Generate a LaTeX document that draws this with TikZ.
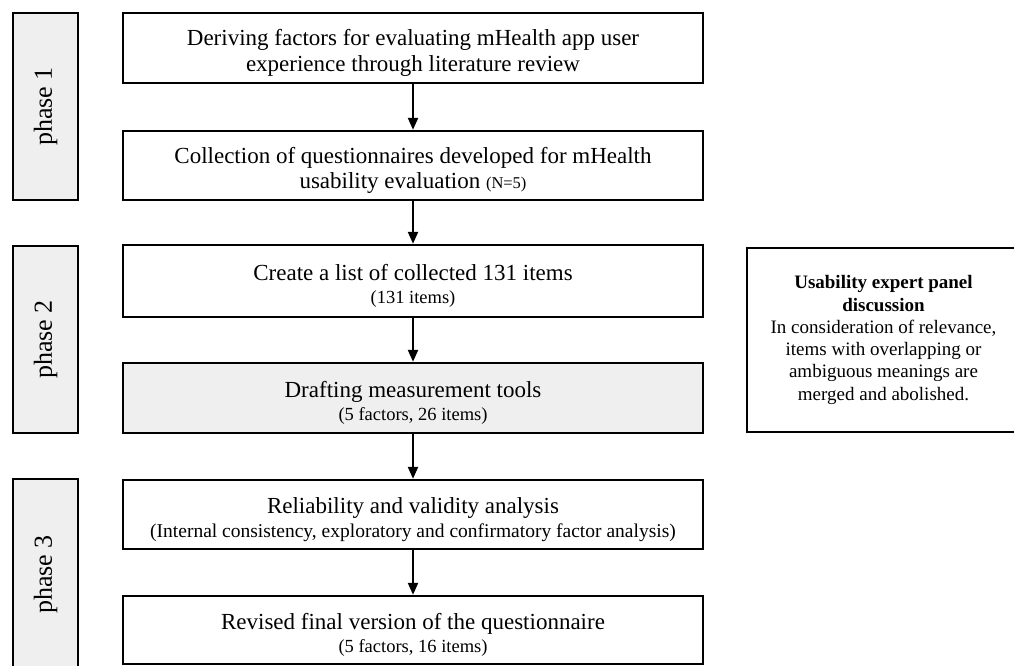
\documentclass[tikz,border=0pt]{standalone}
\usepackage{fontspec}
\setmainfont{Liberation Serif}
\usetikzlibrary{arrows.meta}
\definecolor{boxgray}{HTML}{EFEFEF}
\newcommand\subsz{\fontsize{18.5}{22}\selectfont}
\newcommand\topstrut{\rule{0pt}{26pt}}
\begin{document}
\begin{tikzpicture}[x=1pt,y=-1pt,
  stepbox/.style={draw=black,line width=2.4pt,minimum width=580pt,align=center,inner sep=0pt,font=\fontsize{23}{25.5}\selectfont},
  phasebox/.style={draw=black,line width=2.4pt,fill=boxgray,minimum width=187pt,minimum height=65pt,rotate=90,inner sep=0pt,font=\fontsize{26}{30}\selectfont},
  flow/.style={line width=2.2pt,-{Triangle[length=12pt,width=10pt]}}]
\useasboundingbox (0,0) rectangle (1014,666);
\fill[white] (0,0) rectangle (1014,666);
% phase boxes
\node[phasebox] (p1) at (45.5,106.5) {phase 1};
\node[phasebox] (p2) at (45.5,339.5) {phase 2};
\node[phasebox,minimum width=191pt] (p3) at (45.5,574.5) {phase 3};
% main steps
\node[stepbox,minimum height=70pt] (b1) at (413,48) {\topstrut Deriving factors for evaluating mHealth app user\\experience through literature review};
\node[stepbox,minimum height=69pt] (b2) at (413,165.5) {\topstrut Collection of questionnaires developed for mHealth\\usability evaluation {\fontsize{16.5}{20}\selectfont(N=5)}};
\node[stepbox,minimum height=72pt] (b3) at (413,281) {\topstrut Create a list of collected 131 items\\[-2pt]{\subsz (131 items)}};
\node[stepbox,minimum height=70pt,fill=boxgray] (b4) at (413,398) {\topstrut Drafting measurement tools\\[-2pt]{\subsz (5 factors, 26 items)}};
\node[stepbox,minimum height=69pt] (b5) at (413,514.5) {\topstrut Reliability and validity analysis\\[-2pt]{\fontsize{19.5}{22}\selectfont(Internal consistency, exploratory and confirmatory factor analysis)}};
\node[stepbox,minimum height=68pt] (b6) at (413,630) {\topstrut Revised final version of the questionnaire\\[-2pt]{\subsz (5 factors, 16 items)}};
% expert panel
\node[draw=black,line width=2.4pt,minimum width=273pt,minimum height=184pt,align=center,inner sep=0pt,font=\fontsize{19}{22.3}\selectfont] (ex) at (883.5,340) {\textbf{Usability expert panel}\\\textbf{discussion}\\In consideration of relevance,\\items with overlapping or\\ambiguous meanings are\\merged and abolished.};
% arrows
\draw[flow] (b1) -- (b2);
\draw[flow] (b2) -- (b3);
\draw[flow] (b3) -- (b4);
\draw[flow] (b4) -- (b5);
\draw[flow] (b5) -- (b6);
\end{tikzpicture}
\end{document}
